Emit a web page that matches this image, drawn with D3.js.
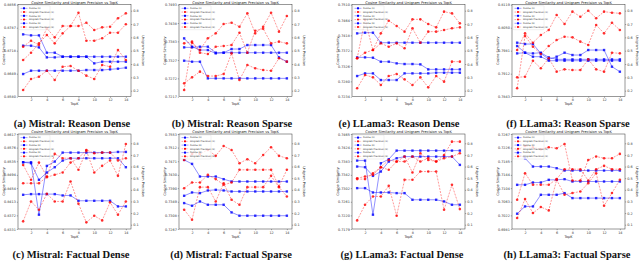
<!DOCTYPE html>
<meta charset="utf-8">
<script src="https://d3js.org/d3.v7.min.js"></script>
<body style="margin:0;background:#fff">
<div id="chart"></div>
<script>

var topK = [1, 2, 3, 4, 5, 6, 7, 8, 9, 10, 11, 12, 13, 14];
var xTicks = [2, 4, 6, 8, 10, 12, 14];
var chartTitle = "Cosine Similarity and Unigram Precision vs TopK";
var legendLabels = ["Cosine (1)", "Unigram Precision (1)", "Cosine (2)", "Unigram Precision (2)", "Cosine (3)", "Unigram Precision (3)"];
var captions = ["(a) Mistral: Reason Dense", "(b) Mistral: Reason Sparse", "(e) LLama3: Reason Dense", "(f) LLama3: Reason Sparse",
                "(c) Mistral: Factual Dense", "(d) Mistral: Factual Sparse", "(g) LLama3: Factual Dense", "(h) LLama3: Factual Sparse"];

// right axis (unigram precision)
var precTicksTop = [0.2, 0.3, 0.4, 0.5, 0.6, 0.7, 0.8];
var precDomainTop = [0.155, 0.845];
var precTicksBottom = [0.1, 0.2, 0.3, 0.4, 0.5, 0.6, 0.7, 0.8];
var precDomainBottom = [0.063, 0.880];

// left axis ticks (cosine similarity), first and last = axis limits
var ticksA = [0.8580, 0.8649, 0.8718, 0.8787, 0.8856];
var ticksB = [0.7217, 0.7272, 0.7327, 0.7383, 0.7438, 0.7493];
var ticksE = [0.7234, 0.7280, 0.7326, 0.7372, 0.7418, 0.7464, 0.7510];
var ticksF = [0.7843, 0.7912, 0.7981, 0.8050, 0.8119];
var ticksC = [0.8331, 0.8372, 0.8413, 0.8454, 0.8494, 0.8535, 0.8576, 0.8617];
var ticksD = [0.7267, 0.7308, 0.7349, 0.7390, 0.7430, 0.7471, 0.7512, 0.7553];
var ticksG = [0.7179, 0.7220, 0.7261, 0.7302, 0.7342, 0.7383, 0.7424, 0.7465];
var ticksH = [0.6981, 0.7022, 0.7063, 0.7104, 0.7144, 0.7185, 0.7226, 0.7267];

// (a) Mistral Reason Dense
var mistralReasonDenseCos = [
  [0.8767, 0.8764, 0.8764, 0.8712, 0.8712, 0.8700, 0.8700, 0.8700, 0.8700, 0.8700, 0.8700, 0.8700, 0.8700, 0.8700],
  [0.8733, 0.8733, 0.8728, 0.8698, 0.8698, 0.8700, 0.8700, 0.8700, 0.8700, 0.8680, 0.8685, 0.8685, 0.8685, 0.8685],
  [0.8648, 0.8658, 0.8658, 0.8658, 0.8658, 0.8658, 0.8658, 0.8658, 0.8660, 0.8660, 0.8660, 0.8662, 0.8664, 0.8667]];
var mistralReasonDensePrec = [
  [0.205, 0.288, 0.305, 0.350, 0.280, 0.380, 0.385, 0.350, 0.313, 0.288, 0.393, 0.380, 0.505, 0.430],
  [0.530, 0.575, 0.543, 0.668, 0.600, 0.685, 0.685, 0.785, 0.575, 0.575, 0.593, 0.635, 0.635, 0.698],
  [0.430, 0.485, 0.555, 0.618, 0.555, 0.630, 0.685, 0.685, 0.710, 0.655, 0.675, 0.680, 0.743, 0.780]];

// (b) Mistral Reason Sparse
var mistralReasonSparseCos = [
  [0.7392, 0.7367, 0.7357, 0.7357, 0.7347, 0.7349, 0.7360, 0.7360, 0.7372, 0.7372, 0.7372, 0.7372, 0.7335, 0.7322],
  [0.7365, 0.7365, 0.7367, 0.7367, 0.7349, 0.7349, 0.7349, 0.7349, 0.7349, 0.7349, 0.7349, 0.7349, 0.7349, 0.7349],
  [0.7325, 0.7322, 0.7322, 0.7272, 0.7272, 0.7272, 0.7272, 0.7272, 0.7272, 0.7272, 0.7272, 0.7272, 0.7272, 0.7272]];
var mistralReasonSparsePrec = [
  [0.255, 0.300, 0.343, 0.310, 0.310, 0.325, 0.480, 0.280, 0.393, 0.368, 0.355, 0.350, 0.443, 0.418],
  [0.205, 0.560, 0.505, 0.593, 0.630, 0.700, 0.710, 0.680, 0.780, 0.630, 0.680, 0.785, 0.643, 0.760],
  [0.555, 0.568, 0.485, 0.475, 0.530, 0.535, 0.543, 0.635, 0.485, 0.650, 0.665, 0.555, 0.568, 0.555]];

// (e) LLama3 Reason Dense
var llamaReasonDenseCos = [
  [0.7424, 0.7426, 0.7426, 0.7396, 0.7396, 0.7396, 0.7396, 0.7396, 0.7396, 0.7396, 0.7396, 0.7396, 0.7396, 0.7396],
  [0.7352, 0.7352, 0.7351, 0.7339, 0.7339, 0.7334, 0.7332, 0.7332, 0.7331, 0.7316, 0.7316, 0.7316, 0.7316, 0.7316],
  [0.7296, 0.7304, 0.7304, 0.7284, 0.7284, 0.7284, 0.7304, 0.7304, 0.7304, 0.7304, 0.7306, 0.7306, 0.7306, 0.7306]];
var llamaReasonDensePrec = [
  [0.218, 0.318, 0.300, 0.243, 0.310, 0.325, 0.285, 0.243, 0.300, 0.225, 0.310, 0.268, 0.418, 0.418],
  [0.443, 0.730, 0.505, 0.630, 0.725, 0.685, 0.643, 0.735, 0.735, 0.700, 0.675, 0.793, 0.780, 0.705],
  [0.443, 0.485, 0.505, 0.555, 0.530, 0.555, 0.518, 0.668, 0.560, 0.643, 0.643, 0.655, 0.668, 0.675]];

// (f) LLama3 Reason Sparse
var llamaReasonSparseCos = [
  [0.8005, 0.8001, 0.8001, 0.7973, 0.7955, 0.7963, 0.7975, 0.7968, 0.7968, 0.7983, 0.7983, 0.7983, 0.7933, 0.7918],
  [0.7973, 0.7975, 0.7973, 0.7975, 0.7961, 0.7955, 0.7955, 0.7955, 0.7955, 0.7955, 0.7955, 0.7955, 0.7955, 0.7955],
  [0.7995, 0.7975, 0.7963, 0.7963, 0.7951, 0.7951, 0.7951, 0.7951, 0.7951, 0.7951, 0.7951, 0.7951, 0.7951, 0.7951]];
var llamaReasonSparsePrec = [
  [0.300, 0.305, 0.425, 0.368, 0.443, 0.343, 0.360, 0.355, 0.355, 0.435, 0.360, 0.343, 0.485, 0.480],
  [0.218, 0.610, 0.530, 0.475, 0.535, 0.580, 0.605, 0.600, 0.568, 0.543, 0.693, 0.630, 0.710, 0.655],
  [0.505, 0.630, 0.560, 0.618, 0.655, 0.768, 0.700, 0.793, 0.755, 0.800, 0.743, 0.793, 0.785, 0.780]];

// (c) Mistral Factual Dense
var mistralFactualDenseCos = [
  [0.8532, 0.8532, 0.8374, 0.8521, 0.8534, 0.8561, 0.8561, 0.8561, 0.8561, 0.8561, 0.8561, 0.8561, 0.8563, 0.8563],
  [0.8532, 0.8529, 0.8479, 0.8501, 0.8517, 0.8537, 0.8544, 0.8544, 0.8544, 0.8544, 0.8544, 0.8544, 0.8544, 0.8517],
  [0.8434, 0.8436, 0.8436, 0.8436, 0.8436, 0.8432, 0.8432, 0.8416, 0.8416, 0.8416, 0.8416, 0.8416, 0.8399, 0.8399]];
var mistralFactualDensePrec = [
  [0.129, 0.300, 0.229, 0.366, 0.300, 0.300, 0.472, 0.280, 0.120, 0.177, 0.137, 0.292, 0.186, 0.300],
  [0.614, 0.486, 0.634, 0.514, 0.709, 0.672, 0.672, 0.572, 0.737, 0.549, 0.606, 0.652, 0.520, 0.794],
  [0.457, 0.457, 0.457, 0.509, 0.529, 0.549, 0.634, 0.672, 0.743, 0.714, 0.720, 0.720, 0.652, 0.672]];

// (d) Mistral Factual Sparse
var mistralFactualSparseCos = [
  [0.7475, 0.7463, 0.7425, 0.7425, 0.7425, 0.7417, 0.7410, 0.7410, 0.7410, 0.7410, 0.7410, 0.7410, 0.7410, 0.7410],
  [0.7367, 0.7377, 0.7375, 0.7383, 0.7385, 0.7383, 0.7380, 0.7380, 0.7380, 0.7380, 0.7380, 0.7380, 0.7380, 0.7380],
  [0.7345, 0.7337, 0.7350, 0.7340, 0.7340, 0.7340, 0.7317, 0.7307, 0.7307, 0.7307, 0.7307, 0.7307, 0.7307, 0.7307]];
var mistralFactualSparsePrec = [
  [0.229, 0.143, 0.423, 0.423, 0.300, 0.457, 0.314, 0.272, 0.423, 0.423, 0.423, 0.520, 0.423, 0.343],
  [0.414, 0.463, 0.463, 0.529, 0.492, 0.443, 0.463, 0.572, 0.572, 0.572, 0.572, 0.572, 0.429, 0.572],
  [0.657, 0.709, 0.709, 0.743, 0.692, 0.777, 0.743, 0.629, 0.663, 0.629, 0.700, 0.766, 0.692, 0.672]];

// (g) LLama3 Factual Dense
var llamaFactualDenseCos = [
  [0.7385, 0.7385, 0.7222, 0.7377, 0.7389, 0.7415, 0.7415, 0.7415, 0.7415, 0.7415, 0.7415, 0.7415, 0.7415, 0.7415],
  [0.7367, 0.7365, 0.7339, 0.7352, 0.7382, 0.7392, 0.7397, 0.7397, 0.7397, 0.7397, 0.7397, 0.7397, 0.7397, 0.7372],
  [0.7302, 0.7302, 0.7289, 0.7289, 0.7289, 0.7287, 0.7287, 0.7267, 0.7267, 0.7267, 0.7267, 0.7262, 0.7252, 0.7252]];
var llamaFactualDensePrec = [
  [0.137, 0.272, 0.343, 0.343, 0.434, 0.177, 0.486, 0.486, 0.557, 0.557, 0.557, 0.229, 0.443, 0.234],
  [0.500, 0.514, 0.529, 0.594, 0.657, 0.643, 0.643, 0.686, 0.643, 0.672, 0.643, 0.672, 0.686, 0.714],
  [0.492, 0.492, 0.543, 0.594, 0.572, 0.643, 0.686, 0.549, 0.714, 0.657, 0.643, 0.700, 0.814, 0.814]];

// (h) LLama3 Factual Sparse
var llamaFactualSparseCos = [
  [0.7209, 0.7194, 0.7169, 0.7169, 0.7169, 0.7164, 0.7157, 0.7157, 0.7157, 0.7157, 0.7157, 0.7157, 0.7157, 0.7157],
  [0.7114, 0.7114, 0.7121, 0.7121, 0.7129, 0.7129, 0.7131, 0.7124, 0.7124, 0.7124, 0.7124, 0.7124, 0.7124, 0.7124],
  [0.7027, 0.7049, 0.7049, 0.7084, 0.7084, 0.7084, 0.7089, 0.7074, 0.7074, 0.7074, 0.7074, 0.7074, 0.7074, 0.7074]];
var llamaFactualSparsePrec = [
  [0.157, 0.320, 0.200, 0.252, 0.223, 0.486, 0.357, 0.372, 0.386, 0.457, 0.543, 0.263, 0.372, 0.486],
  [0.314, 0.543, 0.443, 0.443, 0.443, 0.492, 0.577, 0.577, 0.577, 0.480, 0.577, 0.606, 0.577, 0.577],
  [0.743, 0.777, 0.766, 0.749, 0.766, 0.757, 0.794, 0.480, 0.480, 0.657, 0.686, 0.672, 0.672, 0.709]];


var width = 640, height = 261;
var colFrames = [[18, 131], [179, 292], [352, 465], [512, 625]];
var rowFrames = [[4.7, 96.7], [134, 229]];
var captionX = [[72, 232, 399, 568], [71, 231, 402, 567]];
var captionY = [127, 258];

var panels = [
  {row: 0, col: 0, cos: mistralReasonDenseCos, prec: mistralReasonDensePrec, ticks: ticksA},
  {row: 0, col: 1, cos: mistralReasonSparseCos, prec: mistralReasonSparsePrec, ticks: ticksB},
  {row: 0, col: 2, cos: llamaReasonDenseCos, prec: llamaReasonDensePrec, ticks: ticksE},
  {row: 0, col: 3, cos: llamaReasonSparseCos, prec: llamaReasonSparsePrec, ticks: ticksF},
  {row: 1, col: 0, cos: mistralFactualDenseCos, prec: mistralFactualDensePrec, ticks: ticksC},
  {row: 1, col: 1, cos: mistralFactualSparseCos, prec: mistralFactualSparsePrec, ticks: ticksD},
  {row: 1, col: 2, cos: llamaFactualDenseCos, prec: llamaFactualDensePrec, ticks: ticksG},
  {row: 1, col: 3, cos: llamaFactualSparseCos, prec: llamaFactualSparsePrec, ticks: ticksH}
];

var svg = d3.select("#chart")
  .append("svg")
    .attr("width", width)
    .attr("height", height)
    .style("font-family", "'DejaVu Sans', sans-serif");

function styleAxis(sel) {
  sel.attr("font-size", 3.4).attr("font-family", "'DejaVu Sans', sans-serif");
  sel.select(".domain").remove();
  sel.selectAll(".tick line").attr("stroke", "#333").attr("stroke-width", 0.4);
  sel.selectAll(".tick text").attr("fill", "#333");
}

panels.forEach(function(p, k) {
  var fx = colFrames[p.col], fy = rowFrames[p.row];
  var x = d3.scaleLinear().domain([0.35, 14.65]).range(fx);
  var yL = d3.scaleLinear().domain(d3.extent(p.ticks)).range([fy[1], fy[0]]);
  var yR = d3.scaleLinear()
    .domain(p.row == 0 ? precDomainTop : precDomainBottom)
    .range([fy[1], fy[0]]);
  var g = svg.append("g");

  g.append("g")
    .attr("transform", "translate(0," + fy[1] + ")")
    .call(d3.axisBottom(x).tickValues(xTicks).tickSize(1.2).tickPadding(1))
    .call(styleAxis);
  g.append("g")
    .attr("transform", "translate(" + fx[0] + ",0)")
    .call(d3.axisLeft(yL).tickValues(p.ticks).tickFormat(d3.format(".4f")).tickSize(1.2).tickPadding(1))
    .call(styleAxis);
  g.append("g")
    .attr("transform", "translate(" + fx[1] + ",0)")
    .call(d3.axisRight(yR).tickValues(p.row == 0 ? precTicksTop : precTicksBottom).tickFormat(d3.format(".1f")).tickSize(1.2).tickPadding(1))
    .call(styleAxis);

  // frame
  g.append("rect")
    .attr("x", fx[0]).attr("y", fy[0])
    .attr("width", fx[1] - fx[0]).attr("height", fy[1] - fy[0])
    .attr("fill", "none").attr("stroke", "#333").attr("stroke-width", 0.5);

  // title and axis labels
  g.append("text")
    .attr("x", (fx[0] + fx[1]) / 2).attr("y", fy[0] - 1.2)
    .attr("text-anchor", "middle").attr("font-size", 3.6).attr("fill", "#222")
    .text(chartTitle);
  g.append("text")
    .attr("x", (fx[0] + fx[1]) / 2).attr("y", fy[1] + 8.5)
    .attr("text-anchor", "middle").attr("font-size", 3.4).attr("fill", "#222")
    .text("TopK");
  g.append("text")
    .attr("transform", "translate(" + (fx[0] - 13.5) + "," + ((fy[0] + fy[1]) / 2) + ") rotate(-90)")
    .attr("text-anchor", "middle").attr("font-size", 3.4).attr("fill", "#222")
    .text("Cosine Similarity");
  g.append("text")
    .attr("transform", "translate(" + (fx[1] + 10.5) + "," + ((fy[0] + fy[1]) / 2) + ") rotate(90)")
    .attr("text-anchor", "middle").attr("font-size", 3.4).attr("fill", "#222")
    .text("Unigram Precision");

  var cosLine = d3.line().x(function(d, i) { return x(topK[i]); }).y(function(d) { return yL(d); });
  var precLine = d3.line().x(function(d, i) { return x(topK[i]); }).y(function(d) { return yR(d); });

  p.cos.forEach(function(s) {
    g.append("path").attr("d", cosLine(s))
      .attr("fill", "none").attr("stroke", "#0000ff").attr("stroke-opacity", 0.55).attr("stroke-width", 0.8);
    g.selectAll(null).data(s).enter().append("rect")
      .attr("x", function(d, i) { return x(topK[i]) - 1.2; })
      .attr("y", function(d) { return yL(d) - 1.2; })
      .attr("width", 2.4).attr("height", 2.4)
      .attr("fill", "#0000ff").attr("fill-opacity", 0.8);
  });
  p.prec.forEach(function(s) {
    g.append("path").attr("d", precLine(s))
      .attr("fill", "none").attr("stroke", "#ff0000").attr("stroke-opacity", 0.5)
      .attr("stroke-width", 0.8).attr("stroke-dasharray", "2,1.2");
    g.selectAll(null).data(s).enter().append("circle")
      .attr("cx", function(d, i) { return x(topK[i]); })
      .attr("cy", function(d) { return yR(d); })
      .attr("r", 1.3)
      .attr("fill", "#ff0000").attr("fill-opacity", 0.8);
  });

  // legend
  var lg = g.append("g").attr("transform", "translate(" + (fx[0] + 1) + "," + (fy[0] + 1) + ")");
  lg.append("rect").attr("width", 31).attr("height", 24).attr("rx", 0.8)
    .attr("fill", "#fff").attr("fill-opacity", 0.8).attr("stroke", "#ccc").attr("stroke-width", 0.3);
  legendLabels.forEach(function(lab, i) {
    var yy = 2.6 + i * 3.75;
    var blue = i % 2 == 0;
    var col = blue ? "#0000ff" : "#ff0000";
    lg.append("line").attr("x1", 1.5).attr("x2", 8.5).attr("y1", yy).attr("y2", yy)
      .attr("stroke", col).attr("stroke-opacity", 0.6).attr("stroke-width", 0.6)
      .attr("stroke-dasharray", blue ? null : "1.5,0.8");
    if (blue) {
      lg.append("rect").attr("x", 4).attr("y", yy - 1).attr("width", 2).attr("height", 2).attr("fill", col);
    } else {
      lg.append("circle").attr("cx", 5).attr("cy", yy).attr("r", 1.05).attr("fill", col);
    }
    lg.append("text").attr("x", 10).attr("y", yy + 0.8)
      .attr("font-size", 2.3).attr("fill", "#222").text(lab);
  });

  // caption
  svg.append("text")
    .attr("x", captionX[p.row][p.col]).attr("y", captionY[p.row])
    .attr("text-anchor", "middle")
    .attr("font-family", "'Liberation Serif', serif")
    .attr("font-weight", "bold")
    .attr("font-size", 10.5)
    .attr("fill", "#111")
    .text(captions[k]);
});

</script>
</body>
